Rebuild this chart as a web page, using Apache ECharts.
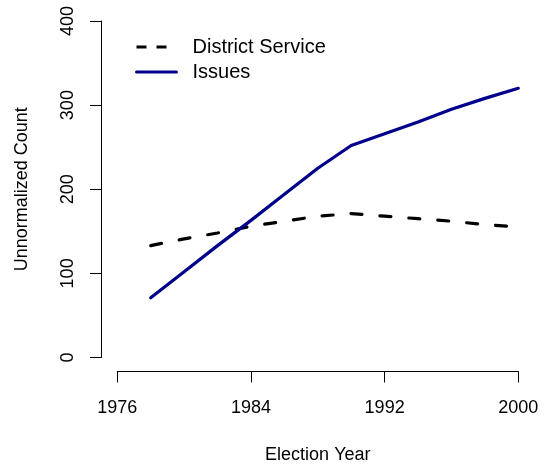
<!DOCTYPE html>
<html>
<head>
<meta charset="utf-8">
<script src="https://cdn.jsdelivr.net/npm/echarts@6/dist/echarts.min.js"></script>
<style>
  html, body { margin: 0; padding: 0; background: #fff; }
  #chart { width: 544px; height: 465px; }
</style>
</head>
<body>
<div id="chart"></div>
<script>
// Election years observed
const years = [1978, 1980, 1982, 1984, 1986, 1988, 1990, 1992, 1994, 1996, 1998, 2000];
// Unnormalized counts per category
const districtService = [133, 141, 148, 156, 162, 168, 171, 168, 165, 162, 158, 155];
const issues = [71, 102, 133, 163, 194, 225, 252, 266, 280, 295, 308, 320];
// Axis tick values
const xTicks = [1976, 1984, 1992, 2000];
const yTicks = [0, 100, 200, 300, 400];

const FONT = '"Liberation Sans", Arial, Helvetica, sans-serif';
const NAVY = '#00008B';

const pairs = (xs, ys) => xs.map((x, i) => [x, ys[i]]);

const chart = echarts.init(document.getElementById('chart'), null, { renderer: 'canvas' });

chart.setOption({
  animation: false,
  backgroundColor: '#ffffff',
  textStyle: { fontFamily: FONT, color: '#000' },
  grid: {
    left: 117.3, right: 25.7, top: 21, bottom: 107.5,
    containLabel: false,
    outerBoundsMode: 'none'
  },
  legend: {
    orient: 'vertical',
    left: 135,
    top: 37,
    padding: 0,
    itemWidth: 40,
    itemHeight: 14,
    itemGap: 5,
    textStyle: { fontFamily: FONT, fontSize: 20, color: '#000', padding: [0, 0, 0, 11] },
    data: [
      {
        name: 'District Service',
        itemStyle: { opacity: 0, borderWidth: 0 },
        lineStyle: { type: [10, 10], width: 3, color: '#000', cap: 'butt' }
      },
      {
        name: 'Issues',
        itemStyle: { opacity: 0, borderWidth: 0 },
        lineStyle: { width: 3, color: NAVY }
      }
    ]
  },
  xAxis: {
    type: 'value',
    min: xTicks[0],
    max: xTicks[xTicks.length - 1],
    interval: xTicks[1] - xTicks[0],
    offset: 14,
    name: 'Election Year',
    nameLocation: 'middle',
    nameGap: 75,
    nameTextStyle: { fontFamily: FONT, fontSize: 18, color: '#000' },
    axisLine: { show: true, onZero: false, lineStyle: { color: '#000', width: 1 } },
    axisTick: { show: true, length: 11, lineStyle: { color: '#000', width: 1 } },
    axisLabel: {
      fontFamily: FONT, fontSize: 18, color: '#000', margin: 28,
      formatter: (v) => String(v)
    },
    splitLine: { show: false }
  },
  yAxis: {
    type: 'value',
    min: yTicks[0],
    max: yTicks[yTicks.length - 1],
    interval: yTicks[1] - yTicks[0],
    offset: 16.3,
    name: 'Unnormalized Count',
    nameLocation: 'middle',
    nameGap: 70,
    nameTextStyle: { fontFamily: FONT, fontSize: 18, color: '#000' },
    axisLine: { show: true, onZero: false, lineStyle: { color: '#000', width: 1 } },
    axisTick: { show: true, length: 11, lineStyle: { color: '#000', width: 1 } },
    axisLabel: { fontFamily: FONT, fontSize: 18, color: '#000', rotate: 90, margin: 24 },
    splitLine: { show: false }
  },
  series: [
    {
      name: 'District Service',
      type: 'line',
      data: pairs(years, districtService),
      symbol: 'none',
      smooth: false,
      color: '#000',
      lineStyle: { color: '#000', width: 3.2, type: [11, 18], cap: 'round' }
    },
    {
      name: 'Issues',
      type: 'line',
      data: pairs(years, issues),
      symbol: 'none',
      smooth: false,
      color: NAVY,
      lineStyle: { color: NAVY, width: 3.2, cap: 'round', join: 'round' }
    }
  ]
});
</script>
</body>
</html>
